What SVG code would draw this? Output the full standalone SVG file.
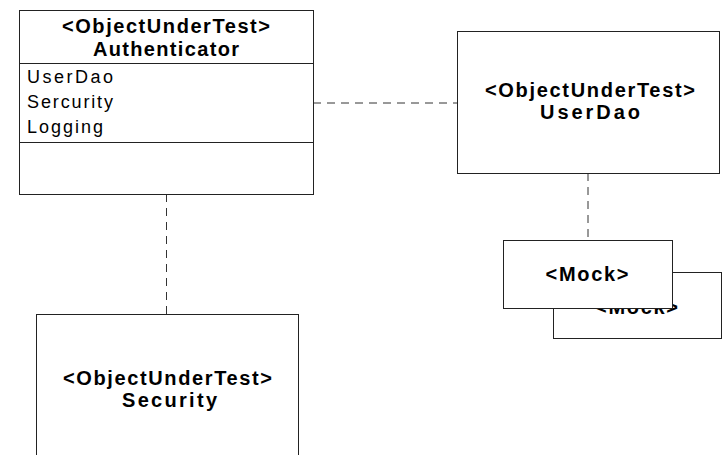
<svg xmlns="http://www.w3.org/2000/svg" width="724" height="455" viewBox="0 0 724 455">
<style>
.box{fill:#fff;stroke:#222;stroke-width:1}
.dash{fill:none;stroke:#333;stroke-width:1;stroke-dasharray:8,6}
.t{font-family:"Liberation Sans",Arial,sans-serif;font-size:20px;font-weight:bold;fill:#000;text-anchor:middle}
.a{font-family:"Liberation Sans",Arial,sans-serif;font-size:18px;fill:#000}
</style>
<rect width="724" height="455" fill="#fff"/>
<g id="connectors">
<line class="dash" x1="313" y1="103" x2="457" y2="103"/>
<line class="dash" x1="588" y1="173" x2="588" y2="240"/>
<line class="dash" x1="166.5" y1="194" x2="166.5" y2="314"/>
</g>
<g id="authenticator">
<rect class="box" x="19.5" y="10.5" width="294" height="184"/>
<line x1="19.5" y1="63.5" x2="313.5" y2="63.5" stroke="#222"/>
<line x1="19.5" y1="142.5" x2="313.5" y2="142.5" stroke="#222"/>
<text class="t" x="166" y="33" textLength="208" lengthAdjust="spacing">&lt;ObjectUnderTest&gt;</text>
<text class="t" x="166" y="56" textLength="146" lengthAdjust="spacing">Authenticator</text>
<text class="a" x="27" y="83" textLength="86" lengthAdjust="spacing">UserDao</text>
<text class="a" x="27" y="108" textLength="86" lengthAdjust="spacing">Sercurity</text>
<text class="a" x="27" y="133" textLength="76" lengthAdjust="spacing">Logging</text>
</g>
<g id="userdao">
<rect class="box" x="457.5" y="31.5" width="262" height="142"/>
<text class="t" x="590" y="97" textLength="210" lengthAdjust="spacing">&lt;ObjectUnderTest&gt;</text>
<text class="t" x="590" y="119" textLength="100" lengthAdjust="spacing">UserDao</text>
</g>
<g id="mock-back">
<rect class="box" x="553.5" y="272.5" width="168" height="66"/>
<text class="t" x="636.5" y="314" font-size="21" textLength="83" lengthAdjust="spacing">&lt;Mock&gt;</text>
</g>
<g id="mock-front">
<rect class="box" x="503.5" y="240.5" width="169" height="68"/>
<text class="t" x="587" y="281" font-size="21" textLength="83" lengthAdjust="spacing">&lt;Mock&gt;</text>
</g>
<g id="security">
<rect class="box" x="36.5" y="314.5" width="262" height="160"/>
<text class="t" x="167.5" y="385" textLength="209" lengthAdjust="spacing">&lt;ObjectUnderTest&gt;</text>
<text class="t" x="169.5" y="407" textLength="95" lengthAdjust="spacing">Security</text>
</g>
</svg>
